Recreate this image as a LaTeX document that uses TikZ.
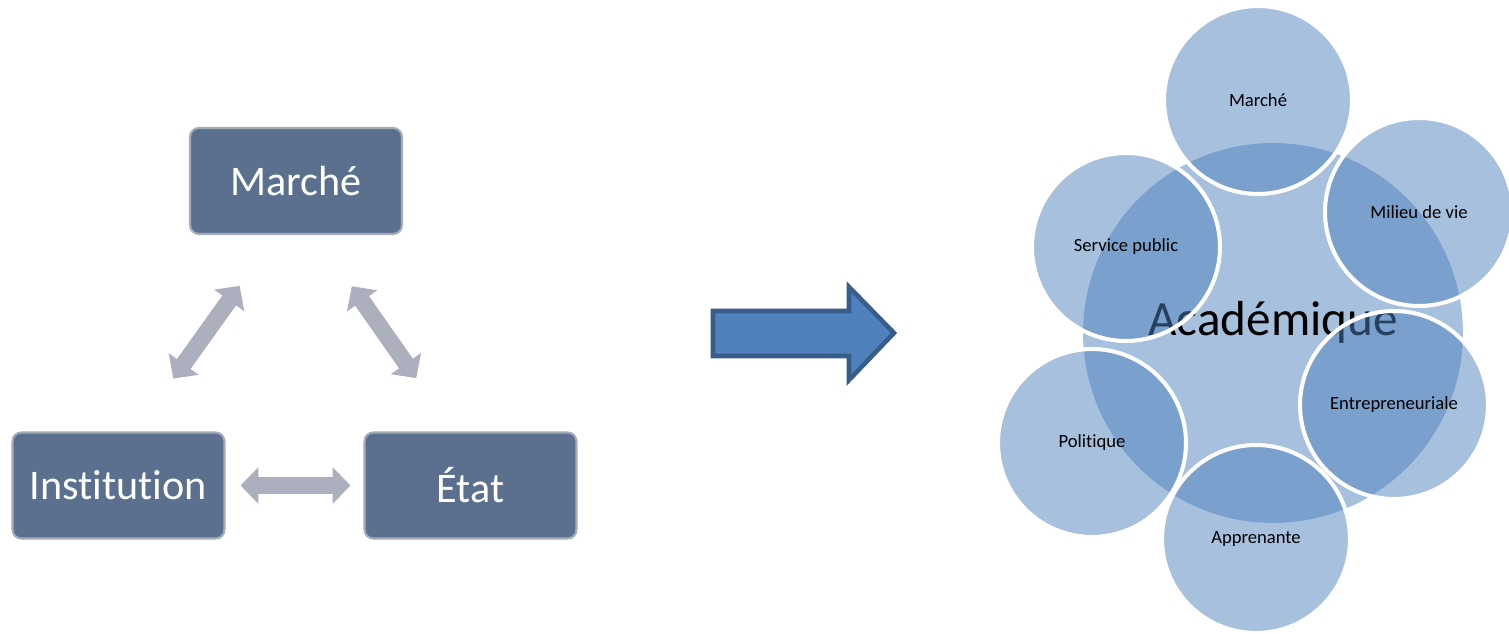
\documentclass[tikz,border=0pt]{standalone}
\usepackage{fontspec}
\setmainfont[Ligatures=NoCommon]{Carlito}
\usetikzlibrary{arrows.meta}
\definecolor{fondboite}{RGB}{91,112,143}
\definecolor{bordboite}{RGB}{165,172,184}
\definecolor{gristrait}{RGB}{172,175,190}
\definecolor{bleu}{RGB}{79,129,189}
\definecolor{bleufonce}{RGB}{56,93,138}
\begin{document}
\begin{tikzpicture}[x=0.02cm,y=-0.02cm,
  case/.style={draw=bordboite,line width=1.2pt,fill=fondboite,rounded corners=5pt,
    minimum width=4.24cm,minimum height=2.12cm,inner sep=0pt,text=white,
    font=\fontsize{24}{28}\selectfont},
  flechedouble/.style={draw=gristrait,line width=9.6pt,
    arrows={Triangle[width=20.4pt,length=10.2pt]-Triangle[width=20.4pt,length=10.2pt]}},
  grand/.style={circle,fill=bleu,fill opacity=0.5,minimum size=7.6cm,inner sep=0pt},
  rond/.style={circle,draw=white,line width=2.3pt,fill=bleu,fill opacity=0.5,
    draw opacity=1,text opacity=1,text=black,minimum size=3.76cm,inner sep=0pt,
    font=\fontsize{10.6}{12}\selectfont}]
\useasboundingbox (0,0) rectangle (1509,634);

\node[case] (marche) at (296,181) {Marché};
\node[case] (inst) at (118.5,485.5) {Institution};
\node[case] (etat) at (470.5,485.5) {État};

\draw[flechedouble,shorten <=1.3cm,shorten >=1.25cm] ([xshift=0.34cm]inst.north) -- ([xshift=-0.4cm]marche.south);
\draw[flechedouble,shorten <=1.25cm,shorten >=1.3cm] ([xshift=0.4cm]marche.south) -- ([xshift=-0.34cm]etat.north);
\draw[flechedouble,shorten <=0.3cm,shorten >=0.26cm] (inst.east) -- (etat.west);

\draw[fill=bleu,draw=bleufonce,line width=2.6pt] (713,311) -- (849,311) -- (849,287) -- (894,333) -- (849,380) -- (849,356) -- (713,356) -- cycle;

\node[grand] (acad) at (1273,333) {};
\node[font=\fontsize{28}{32}\selectfont] (titre) at (1273,322) {Académique};
\foreach \x/\y/\t/\n in {1258/100/Marché/cmarche,1419/212/Milieu de vie/cmilieu,
  1394/405/Entrepreneuriale/centrep,1256/539/Apprenante/capp,
  1092/443/Politique/cpol,1126/247/Service public/cserv}
\node[rond] (\n) at (\x,\y) {\t};
\end{tikzpicture}
\end{document}
